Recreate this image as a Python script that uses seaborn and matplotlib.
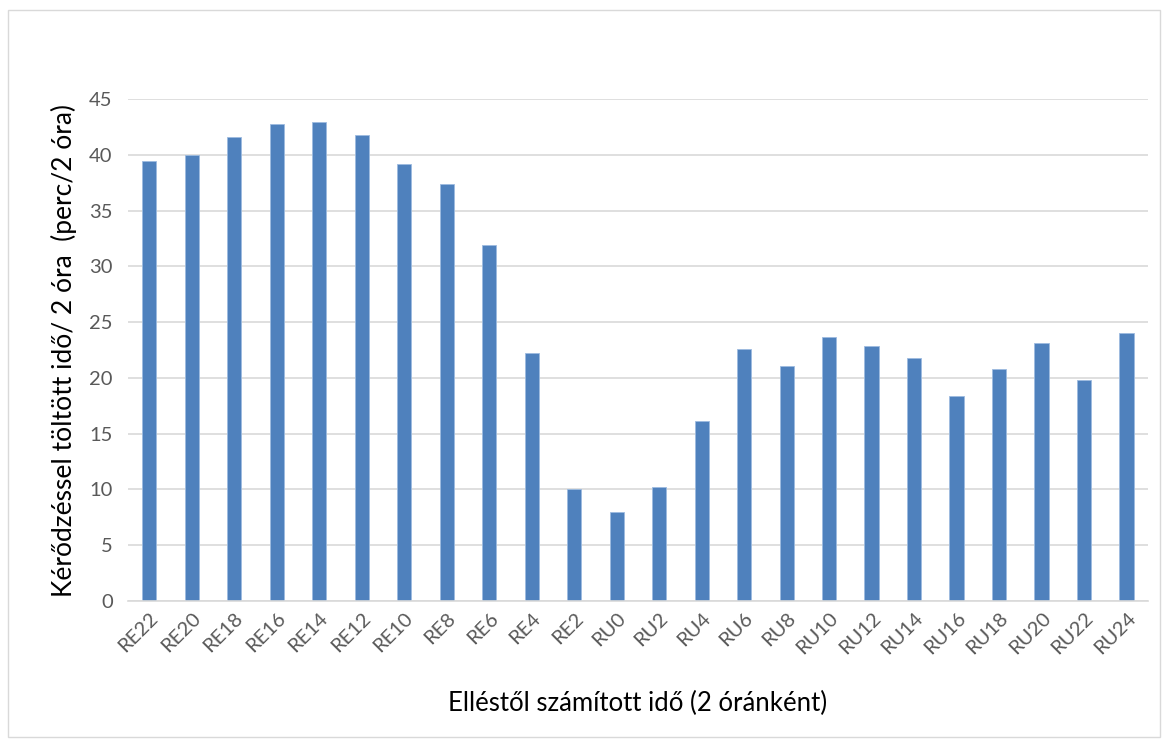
import pandas as pd
import seaborn as sns
import matplotlib.pyplot as plt
from matplotlib.patches import Rectangle

# Data
categories = ['RE22', 'RE20', 'RE18', 'RE16', 'RE14', 'RE12', 'RE10', 'RE8', 'RE6', 'RE4', 'RE2',
              'RU0', 'RU2', 'RU4', 'RU6', 'RU8', 'RU10', 'RU12', 'RU14', 'RU16', 'RU18', 'RU20',
              'RU22', 'RU24']
values = [39.4, 40.0, 41.6, 42.8, 42.9, 41.8, 39.2, 37.4, 31.9, 22.2, 10.0,
          8.0, 10.2, 16.1, 22.6, 21.1, 23.7, 22.9, 21.8, 18.4, 20.8, 23.1,
          19.8, 24.0]
y_ticks = [0, 5, 10, 15, 20, 25, 30, 35, 40, 45]

df = pd.DataFrame({'ido': categories, 'perc': values})

sns.set_style('white')
plt.rcParams['font.family'] = ['Lato', 'DejaVu Sans']

fig = plt.figure(figsize=(11.69, 7.42), dpi=100)
ax = fig.add_axes([0.1095, 0.19, 0.8725, 0.6766])

sns.barplot(data=df, x='ido', y='perc', ax=ax, color='#4f81bd', saturation=1,
            width=0.34, edgecolor='#9dbbe0', linewidth=0.6)

ax.set_ylim(0, 45)
ax.set_xlim(-0.5, len(categories) - 0.5)
ax.set_yticks(y_ticks)
ax.yaxis.grid(True, color='#d9d9d9', linewidth=1.2)
ax.set_axisbelow(True)
for side in ['top', 'right', 'left']:
    ax.spines[side].set_visible(False)
ax.spines['bottom'].set_color('#d9d9d9')
ax.spines['bottom'].set_linewidth(1.2)
ax.tick_params(length=0, colors='#595959', labelsize=14.5)
ax.tick_params(axis='y', pad=11)
ax.tick_params(axis='x', pad=6)
plt.setp(ax.get_xticklabels(), rotation=45, ha='right', rotation_mode='anchor')

ax.set_ylabel('Kérődzéssel töltött idő/ 2 óra  (perc/2 óra)', fontsize=19, color='black', labelpad=9)
ax.set_xlabel('Elléstől számított idő (2 óránként)', fontsize=18.5, color='black', labelpad=24)

# light grey chart border
fig.patches.append(Rectangle((8 / 1169, 5 / 742), 1152 / 1169, 727 / 742, transform=fig.transFigure,
                             fill=False, edgecolor='#d9d9d9', linewidth=1))

fig.savefig('out.png', dpi=100)
